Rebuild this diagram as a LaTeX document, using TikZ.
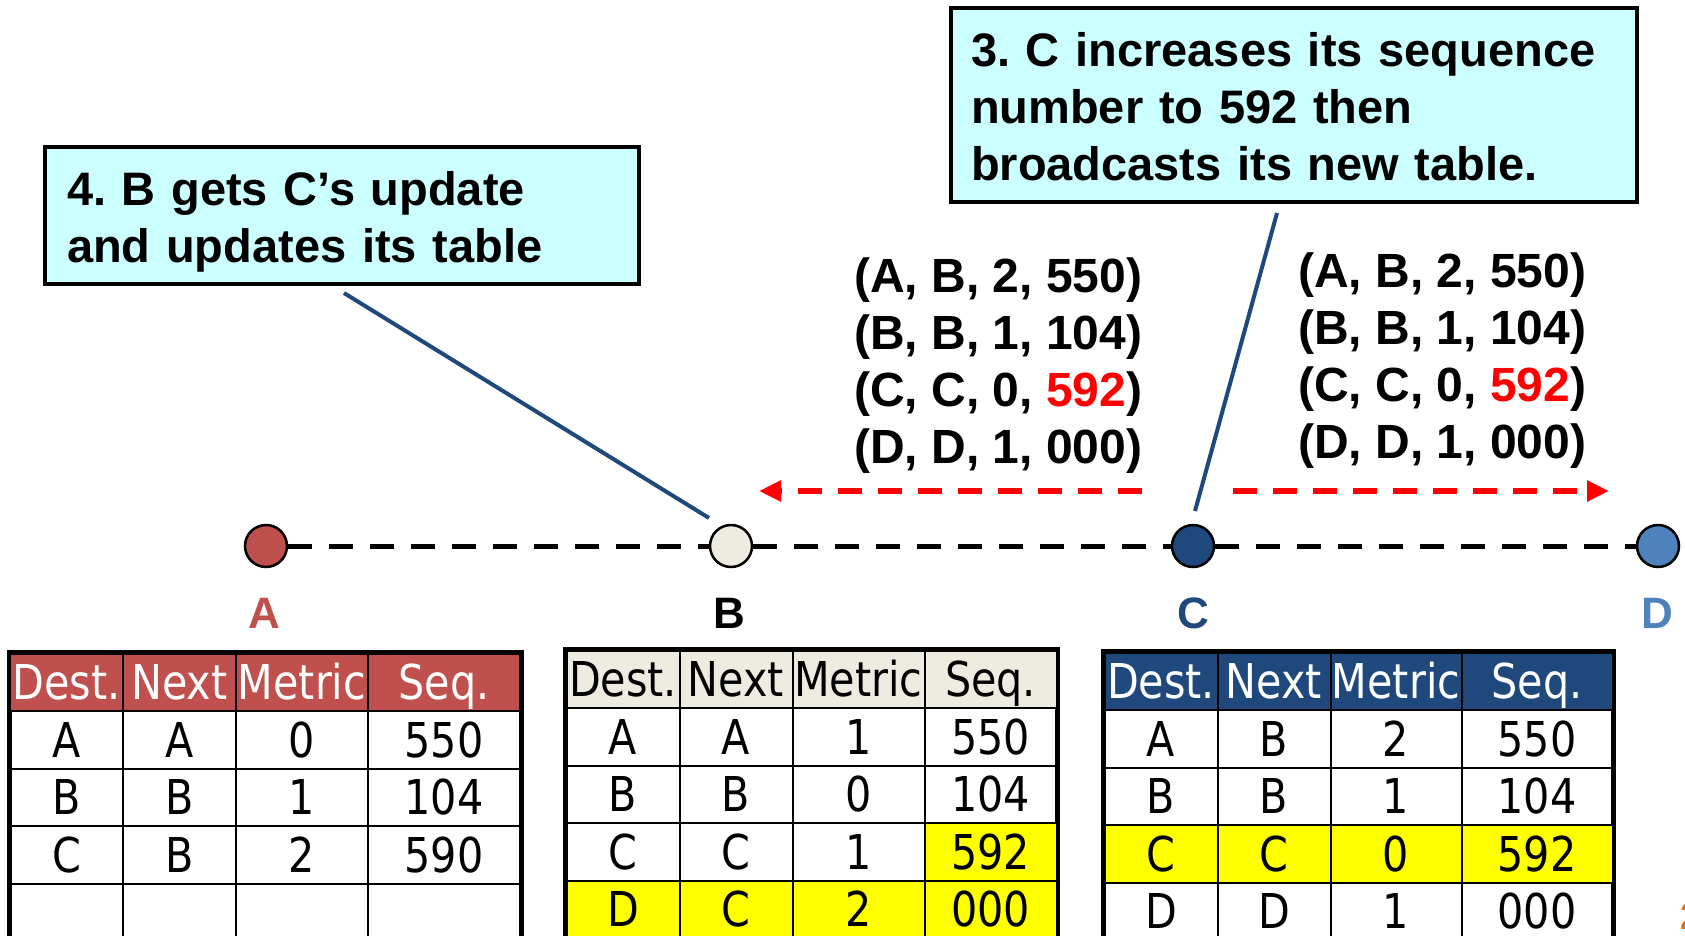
\documentclass[tikz,border=0pt]{standalone}
\usepackage{fontspec}
\setmainfont{Liberation Sans}
\newfontfamily\tabfont[FakeStretch=0.86]{DejaVu Sans}
\usepackage{xcolor}
\usepackage{tikz}
\usetikzlibrary{arrows.meta,matrix,positioning}
\definecolor{nodeA}{RGB}{192,80,77}
\definecolor{nodeB}{RGB}{238,236,225}
\definecolor{nodeC}{RGB}{31,73,125}
\definecolor{nodeD}{RGB}{79,129,189}
\definecolor{calloutcyan}{RGB}{204,255,255}
\definecolor{hilite}{RGB}{255,255,0}
\definecolor{slideorange}{RGB}{228,108,10}
\frenchspacing

\begin{document}
\begin{tikzpicture}[
    x=1pt, y=-1pt,
    station/.style={circle, draw, line width=2.5pt, minimum size=42pt, inner sep=0pt},
    stlabel/.style={inner sep=0pt, font=\fontsize{44}{50}\selectfont\bfseries},
    callout/.style={draw, line width=4.5pt, fill=calloutcyan, align=left, inner sep=0pt,
        font=\fontsize{47}{57}\selectfont\bfseries},
    update/.style={align=left, inner sep=0pt, anchor=west, font=\fontsize{48}{57}\selectfont\bfseries},
    pointer/.style={draw=nodeC, line width=4pt},
    link/.style={draw, line width=5pt, dash pattern=on 24pt off 17pt},
    bcast/.style={draw=red, line width=5.5pt, dash pattern=on 24pt off 16pt,
        -{Triangle[length=22pt,width=20pt]}},
    rtable/.style 2 args={matrix of nodes, nodes in empty cells, draw, line width=5pt,
        inner sep=0pt, column sep=-2pt, row sep=-2pt, anchor=north west,
        nodes={draw, line width=2pt, minimum height=57.5pt, text height=35pt, text depth=0pt,
            inner sep=0pt, outer sep=0pt, font=\fontsize{48}{58}\selectfont\tabfont},
        row 1/.style={nodes={fill=#1, text=#2}}},
    cols/.style n args={4}{column 1/.style={nodes={minimum width=#1}},
        column 2/.style={nodes={minimum width=#2}},
        column 3/.style={nodes={minimum width=#3}},
        column 4/.style={nodes={minimum width=#4}}}
]
\useasboundingbox (0,0) rectangle (1685,936);
\clip (0,0) rectangle (1685,936);

% stations on the shared link
\node[station, fill=nodeA] (nA) at (266,546) {};
\node[station, fill=nodeB] (nB) at (731,546) {};
\node[station, fill=nodeC] (nC) at (1193,546) {};
\node[station, fill=nodeD] (nD) at (1658,546) {};
\draw[link] (nA) -- (nB);
\draw[link] (nB) -- (nC);
\draw[link] (nC) -- (nD);

\node[stlabel, text=nodeA] (lA) at (264,613) {A};
\node[stlabel] (lB) at (729,613) {B};
\node[stlabel, text=nodeC] (lC) at (1193,613) {C};
\node[stlabel, text=nodeD] (lD) at (1657,613) {D};

% broadcast of C's table
\node[update] (msgL) at (854,366) {(A, B, 2, 550)\\(B, B, 1, 104)\\(C, C, 0, \textcolor{red}{592})\\(D, D, 1, 000)};
\node[update] (msgR) at (1298,361) {(A, B, 2, 550)\\(B, B, 1, 104)\\(C, C, 0, \textcolor{red}{592})\\(D, D, 1, 000)};
\coordinate (bcL1) at (1142,491);
\coordinate (bcL2) at (759,491);
\coordinate (bcR1) at (1233,491);
\coordinate (bcR2) at (1609,491);
\draw[bcast] (bcL1) -- (bcL2);
\draw[bcast] (bcR1) -- (bcR2);

% callouts
\node[callout, minimum width=594pt, minimum height=137pt, text width=550pt] (note4) at (342,215.5)
    {\rule{0pt}{46pt}4. B gets C's update\\and updates its table};
\node[callout, minimum width=686pt, minimum height=194pt, text width=646pt] (note3) at (1294,105)
    {\rule{0pt}{38pt}3. C increases its sequence\\number to 592 then\\broadcasts its new table.};
\coordinate (tail4) at (344,293);
\coordinate (tip4) at (709,518);
\coordinate (tail3) at (1277,213);
\coordinate (tip3) at (1195,511);
\draw[pointer] (tail4) -- (tip4);
\draw[pointer] (tail3) -- (tip3);

% routing tables
\matrix (tabA) [rtable={nodeA}{white}, cols={112pt}{113.5pt}{132pt}{152pt}] at (7,650) {
    Dest. & Next & Metric & Seq. \\
    A & A & 0 & 550 \\
    B & B & 1 & 104 \\
    C & B & 2 & 590 \\
      &   &   &     \\
};
\matrix (tabB) [rtable={nodeB}{black}, cols={113pt}{113pt}{132pt}{132pt}] at (563,647) {
    Dest. & Next & Metric & Seq. \\
    A & A & 1 & 550 \\
    B & B & 0 & 104 \\
    C & C & 1 & |[fill=hilite]| 592 \\
    |[fill=hilite]| D & |[fill=hilite]| C & |[fill=hilite]| 2 & |[fill=hilite]| 000 \\
};
\matrix (tabC) [rtable={nodeC}{white}, cols={113pt}{113pt}{131pt}{151pt}] at (1101,649) {
    Dest. & Next & Metric & Seq. \\
    A & B & 2 & 550 \\
    B & B & 1 & 104 \\
    |[fill=hilite]| C & |[fill=hilite]| C & |[fill=hilite]| 0 & |[fill=hilite]| 592 \\
    D & D & 1 & 000 \\
};

\node[anchor=west, inner sep=0pt, text=slideorange, font=\fontsize{38}{40}\selectfont\bfseries] (slideno) at (1680,916) {2};
\end{tikzpicture}
\end{document}
